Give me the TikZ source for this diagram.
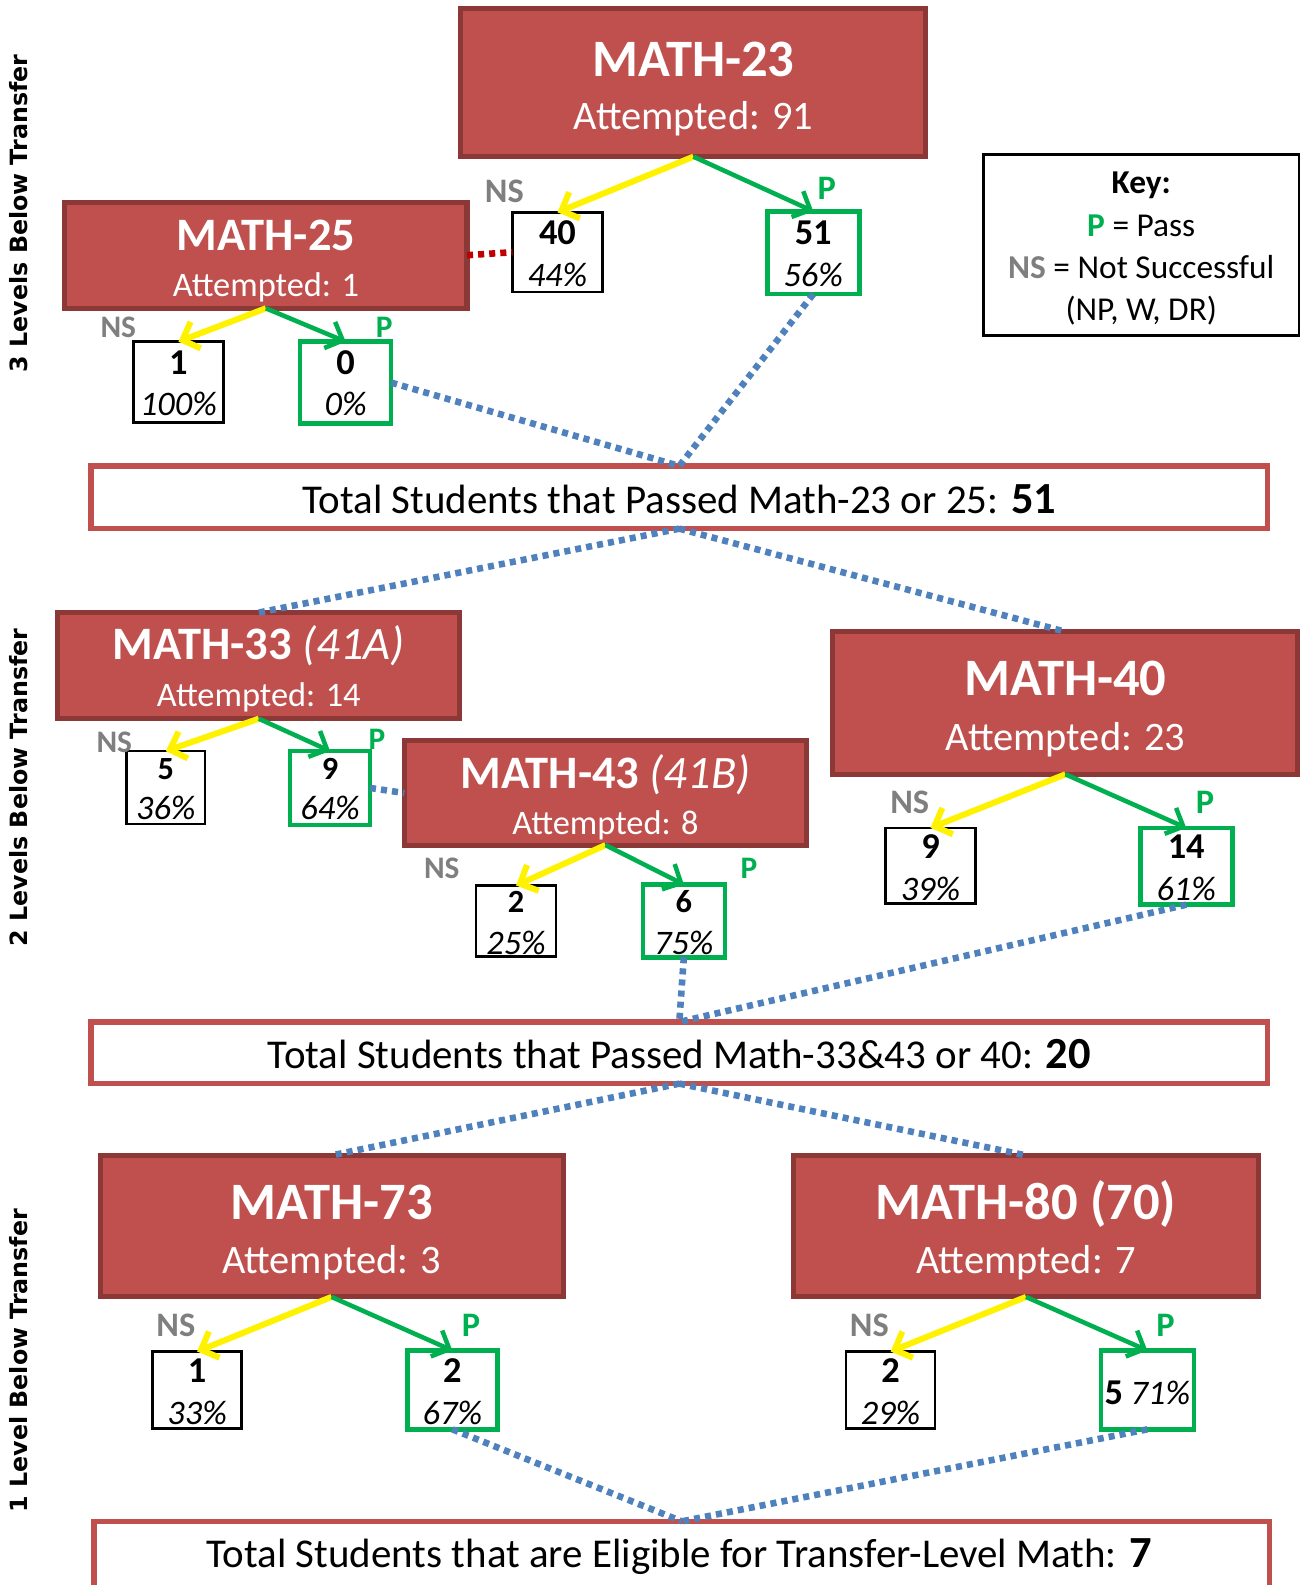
\documentclass[tikz,border=0pt]{standalone}
\usepackage{fontspec}
\setmainfont{Carlito}
\newfontfamily\sidefont{DejaVu Sans}
\usetikzlibrary{arrows.meta}
\definecolor{cred}{HTML}{C0504D}
\definecolor{cborder}{HTML}{8C3836}
\definecolor{cgreen}{HTML}{00B050}
\definecolor{cblue}{HTML}{4F81BD}
\definecolor{cgray}{HTML}{7F7F7F}
\definecolor{cdred}{HTML}{C00000}
\newcommand\FsTitle{\fontsize{52}{60}\selectfont\bfseries}
\newcommand\FsTitleS{\fontsize{46}{54}\selectfont\bfseries}
\newcommand\FsAtt{\fontsize{40}{48}\selectfont}
\newcommand\FsAttS{\fontsize{34}{41}\selectfont}
\newcommand\FsNum{\fontsize{36}{43}\selectfont\bfseries}
\newcommand\FsPct{\fontsize{34}{41}\selectfont\itshape}
\newcommand\FsLab{\fontsize{34}{41}\selectfont\bfseries}
\newcommand\FsKey{\fontsize{33}{40}\selectfont}
\newcommand\FsTot{\fontsize{40.5}{48}\selectfont}
\newcommand\FsTotB{\fontsize{44}{50}\selectfont\bfseries}
\newcommand\FsSide{\sidefont\bfseries\fontsize{23.5}{28}\selectfont}
\begin{document}
\begin{tikzpicture}[x=1pt,y=-1pt,
  course/.style={draw=cborder,fill=cred,line width=5pt,inner sep=0pt,outer sep=0pt},
  nsbox/.style={draw=black,fill=white,line width=2.5pt,inner sep=0pt,outer sep=0pt},
  pbox/.style={draw=cgreen,fill=white,line width=4.5pt,inner sep=0pt,outer sep=0pt},
  totbox/.style={draw=cred,fill=white,line width=5pt,inner sep=0pt,outer sep=0pt},
  keybox/.style={draw=black,fill=white,line width=2.5pt,inner sep=0pt,outer sep=0pt},
  txt/.style={anchor=base,inner sep=0pt},
  wtxt/.style={txt,text=white},
  nslab/.style={txt,text=cgray,font=\FsLab},
  plab/.style={txt,text=cgreen,font=\FsLab},
  nsarrow/.style={draw=yellow,line width=6pt,-{Straight Barb[length=14pt,width=28pt]}},
  parrow/.style={draw=cgreen,line width=4.5pt,-{Straight Barb[length=14pt,width=28pt]}},
  link/.style={draw=cblue,line width=6.5pt,dash pattern=on 6pt off 5pt},
  redlink/.style={draw=cdred,line width=6.5pt,dash pattern=on 6pt off 5pt}
]
\useasboundingbox (0,0) rectangle (1292,1568);

% ---------- side labels
\node[rotate=90,font=\FsSide] (side3) at (18,211) {3 Levels Below Transfer};
\node[rotate=90,font=\FsSide] (side2) at (18,779) {2 Levels Below Transfer};
\node[rotate=90,font=\FsSide] (side1) at (18,1346) {1 Level Below Transfer};

% ---------- boxes
\node[course,minimum width=460pt,minimum height=147pt] (m23) at (686,81.5) {};
\node[nsbox,minimum width=89pt,minimum height=79pt] (ns40) at (551.5,249.5) {};
\node[pbox,minimum width=91pt,minimum height=82pt] (p51) at (804.5,250) {};
\node[course,minimum width=398pt,minimum height=105pt] (m25) at (263,252.5) {};
\node[nsbox,minimum width=89pt,minimum height=80pt] (ns1) at (176.5,378) {};
\node[pbox,minimum width=90pt,minimum height=81pt] (p0) at (342,378.5) {};
\node[keybox,minimum width=312pt,minimum height=179pt] (key) at (1129,242.5) {};
\node[totbox,minimum width=1164pt,minimum height=62pt] (tot1) at (672,492) {};

\node[course,minimum width=398pt,minimum height=105pt] (m33) at (256,658.5) {};
\node[nsbox,minimum width=78pt,minimum height=72pt] (ns5) at (164,779) {};
\node[pbox,minimum width=79pt,minimum height=73pt] (p9) at (326.5,779.5) {};
\node[course,minimum width=398pt,minimum height=103pt] (m43) at (599,784.5) {};
\node[nsbox,minimum width=79pt,minimum height=70pt] (ns2a) at (510.5,911) {};
\node[pbox,minimum width=81pt,minimum height=72pt] (p6) at (676.5,911) {};
\node[course,minimum width=460pt,minimum height=141pt] (m40) at (1054,695.5) {};
\node[nsbox,minimum width=89pt,minimum height=75pt] (ns9) at (920.5,856.5) {};
\node[pbox,minimum width=91pt,minimum height=76pt] (p14) at (1173.5,857) {};
\node[totbox,minimum width=1164pt,minimum height=61pt] (tot2) at (672,1041.5) {};

\node[course,minimum width=458pt,minimum height=140pt] (m73) at (328,1213) {};
\node[nsbox,minimum width=88pt,minimum height=76pt] (ns1b) at (195,1375) {};
\node[pbox,minimum width=89pt,minimum height=78pt] (p2) at (447.5,1375) {};
\node[course,minimum width=460pt,minimum height=140pt] (m80) at (1015,1213) {};
\node[nsbox,minimum width=88pt,minimum height=76pt] (ns2b) at (881,1375) {};
\node[pbox,minimum width=92pt,minimum height=78pt] (p5) at (1135,1375) {};
\node[totbox,minimum width=1163pt,minimum height=65pt] (tot3) at (674.5,1537.5) {};

% ---------- texts: level 3
\node[wtxt,font=\FsTitle] (m23a) at (686,76) {MATH-23};
\node[wtxt,font=\FsAtt] (m23b) at (686,128) {Attempted: 91};
\node[txt,font=\FsNum] (ns40a) at (551.5,242) {40};
\node[txt,font=\FsPct] (ns40b) at (551.5,283) {44\%};
\node[txt,font=\FsNum] (p51a) at (804.5,242) {51};
\node[txt,font=\FsPct] (p51b) at (804.5,283) {56\%};
\node[nslab] (l1) at (499,200) {NS};
\node[plab] (l2) at (818,197) {P};

\node[wtxt,font=\FsTitleS] (m25a) at (263,247.5) {MATH-25};
\node[wtxt,font=\FsAttS] (m25b) at (263,293) {Attempted: 1};
\node[nslab,font=\fontsize{31}{37}\selectfont\bfseries] (l3) at (117,334) {NS};
\node[plab,font=\fontsize{31}{37}\selectfont\bfseries] (l4) at (380,334) {P};
\node[txt,font=\FsNum] (ns1a) at (176.5,370) {1};
\node[txt,font=\FsPct] (ns1c) at (176.5,411) {100\%};
\node[txt,font=\FsNum] (p0a) at (342,370) {0};
\node[txt,font=\FsPct] (p0b) at (342,411) {0\%};

\node[txt,font=\FsKey\bfseries] (k1) at (1129,191.5) {Key:};
\node[txt,font=\FsKey] (k2) at (1129,233.5) {{\color{cgreen}\bfseries P} = Pass};
\node[txt,font=\FsKey] (k3) at (1129,275.5) {{\color{cgray}\bfseries NS} = Not Successful};
\node[txt,font=\FsKey] (k4) at (1129,317.5) {(NP, W, DR)};

\node[txt,font=\FsTot] (tot1t) at (672,508) {Total Students that Passed Math-23 or 25: {\FsTotB 51}};

% ---------- texts: level 2
\node[wtxt,font=\FsTitleS] (m33a) at (256,652.5) {MATH-33 {\mdseries\itshape(41A)}};
\node[wtxt,font=\FsAttS] (m33b) at (256,699) {Attempted: 14};
\node[nslab,font=\fontsize{31}{37}\selectfont\bfseries] (l5) at (113,744) {NS};
\node[plab,font=\fontsize{31}{37}\selectfont\bfseries] (l6) at (373,741) {P};
\node[txt,font=\fontsize{32}{38}\selectfont\bfseries] (ns5a) at (164,771) {5};
\node[txt,font=\FsPct] (ns5b) at (164,811) {36\%};
\node[txt,font=\fontsize{32}{38}\selectfont\bfseries] (p9a) at (326.5,771) {9};
\node[txt,font=\FsPct] (p9b) at (326.5,811) {64\%};

\node[wtxt,font=\FsTitleS] (m43a) at (599,780.5) {MATH-43 {\mdseries\itshape(41B)}};
\node[wtxt,font=\FsAttS] (m43b) at (599,826) {Attempted: 8};
\node[nslab,font=\fontsize{31}{37}\selectfont\bfseries] (l7) at (437,869) {NS};
\node[plab,font=\fontsize{31}{37}\selectfont\bfseries] (l8) at (741,869) {P};
\node[txt,font=\fontsize{32}{38}\selectfont\bfseries] (ns2aa) at (510.5,902.5) {2};
\node[txt,font=\FsPct] (ns2ab) at (510.5,944) {25\%};
\node[txt,font=\fontsize{32}{38}\selectfont\bfseries] (p6a) at (676.5,902.5) {6};
\node[txt,font=\FsPct] (p6b) at (676.5,944) {75\%};

\node[wtxt,font=\FsTitle] (m40a) at (1054,688) {MATH-40};
\node[wtxt,font=\FsAtt] (m40b) at (1054,742) {Attempted: 23};
\node[nslab] (l9) at (900,805) {NS};
\node[plab] (l10) at (1192,805) {P};
\node[txt,font=\FsNum] (ns9a) at (920.5,849.5) {9};
\node[txt,font=\FsPct] (ns9b) at (920.5,891) {39\%};
\node[txt,font=\FsNum] (p14a) at (1173.5,849.5) {14};
\node[txt,font=\FsPct] (p14b) at (1173.5,891) {61\%};

\node[txt,font=\FsTot] (tot2t) at (672,1057) {Total Students that Passed Math-33\&43 or 40: {\FsTotB 20}};

% ---------- texts: level 1
\node[wtxt,font=\FsTitle] (m73a) at (328,1206) {MATH-73};
\node[wtxt,font=\FsAtt] (m73b) at (328,1260) {Attempted: 3};
\node[nslab] (l11) at (174,1322) {NS};
\node[plab] (l12) at (466,1322) {P};
\node[txt,font=\FsNum] (ns1ba) at (195,1367.5) {1};
\node[txt,font=\FsPct] (ns1bb) at (195,1409) {33\%};
\node[txt,font=\FsNum] (p2a) at (447.5,1367.5) {2};
\node[txt,font=\FsPct] (p2b) at (447.5,1409) {67\%};

\node[wtxt,font=\FsTitle] (m80a) at (1015,1206) {MATH-80 (70)};
\node[wtxt,font=\FsAtt] (m80b) at (1015,1260) {Attempted: 7};
\node[nslab] (l13) at (860,1322) {NS};
\node[plab] (l14) at (1153,1322) {P};
\node[txt,font=\FsNum] (ns2ba) at (881,1367.5) {2};
\node[txt,font=\FsPct] (ns2bb) at (881,1409) {29\%};
\node[txt,font=\FsPct] (p5a) at (1135,1389.5) {{\upshape\bfseries\fontsize{36}{43}\selectfont 5} 71\%};

\node[txt,font=\FsTot] (tot3t) at (672,1551) {Total Students that are Eligible for Transfer-Level Math: {\FsTotB 7}};

% ---------- arrows
\draw[nsarrow] (m23.south) -- (ns40.north);
\draw[parrow] (m23.south) -- (p51.north);
\draw[nsarrow] (m25.south) -- (ns1.north);
\draw[parrow] (m25.south) -- (p0.north);
\draw[nsarrow] (m33.south) -- (ns5.north);
\draw[parrow] (m33.south) -- (p9.north);
\draw[nsarrow] (m43.south) -- (ns2a.north);
\draw[parrow] (m43.south) -- (p6.north);
\draw[nsarrow] (m40.south) -- (ns9.north);
\draw[parrow] (m40.south) -- (p14.north);
\draw[nsarrow] (m73.south) -- (ns1b.north);
\draw[parrow] (m73.south) -- (p2.north);
\draw[nsarrow] (m80.south) -- (ns2b.north);
\draw[parrow] (m80.south) -- (p5.north);

% ---------- dotted links
\draw[redlink] (m25.east) -- (ns40.west);
\draw[link] (p0.east) -- (tot1.north);
\draw[link] (p51.south) -- (tot1.north);
\draw[link] (tot1.south) -- (m33.north);
\draw[link] (tot1.south) -- (m40.north);
\draw[link] (p9.east) -- (m43.west);
\draw[link] (p6.south) -- (tot2.north);
\draw[link] (p14.south) -- (tot2.north);
\draw[link] (tot2.south) -- (m73.north);
\draw[link] (tot2.south) -- (m80.north);
\draw[link] (p2.south) -- (tot3.north);
\draw[link] (p5.south) -- (tot3.north);
\end{tikzpicture}
\end{document}
